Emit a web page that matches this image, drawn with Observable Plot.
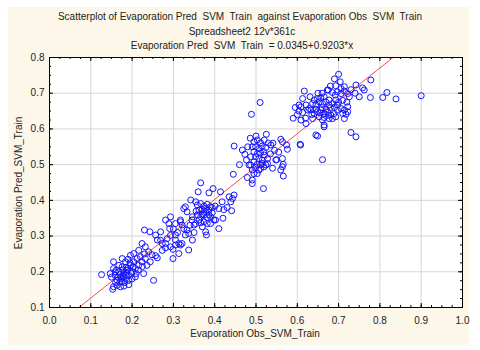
<!DOCTYPE html>
<html><head><meta charset="utf-8">
<script src="https://cdn.jsdelivr.net/npm/d3@7"></script>
<script src="https://cdn.jsdelivr.net/npm/@observablehq/plot@0.6"></script>
<style>
body{margin:0;background:#fff;}
#wrap{position:relative;width:480px;height:350px;overflow:hidden;font-family:"Liberation Sans",Arial,sans-serif;}
#panel{position:absolute;left:8px;top:7px;width:461px;height:338px;background:#fdf7ea;}
#chart{position:absolute;left:0;top:0;}
.t{position:absolute;left:0;width:480px;text-align:center;font-size:10px;color:#222;white-space:pre;line-height:12px;}
#ylab{position:absolute;left:-81px;top:177px;width:200px;height:12px;text-align:center;font-size:10px;line-height:12px;color:#222;transform:rotate(-90deg);white-space:pre;}
</style></head><body>
<div id="wrap">
<div id="panel"></div>
<div id="chart"></div>
<div class="t" id="t1" style="top:11px"></div>
<div class="t" id="t2" style="top:25.5px;left:2px"></div>
<div class="t" id="t3" style="top:40px;left:2px"></div>
<div class="t" id="xlab" style="top:327.5px;left:15px"></div>
<div id="ylab"></div>
</div>
<script>
const title1 = "Scatterplot of Evaporation Pred  SVM  Train  against Evaporation Obs  SVM  Train";
const title2 = "Spreadsheet2 12v*361c";
const title3 = "Evaporation Pred  SVM  Train  = 0.0345+0.9203*x";
const xLabel = "Evaporation Obs_SVM_Train";
const yLabel = "Evaporation Pred_SVM_Train";
const intercept = 0.0345, slope = 0.9203;
const xDomain = [0, 1];
const yDomain = [0.1, 0.8];
const xTicks = [0.0,0.1,0.2,0.3,0.4,0.5,0.6,0.7,0.8,0.9,1.0];
const yTicks = [0.1,0.2,0.3,0.4,0.5,0.6,0.7,0.8];

// [obs, pred] pairs
const lowCluster = [
[0.126,0.192],[0.230,0.317],[0.243,0.312],[0.252,0.176],[0.291,0.321],[0.269,0.288],[0.281,0.267],[0.299,0.263],
[0.257,0.245],[0.261,0.239],[0.299,0.237],[0.224,0.279],[0.232,0.270],[0.176,0.237],[0.196,0.246],[0.204,0.251],
[0.216,0.260],[0.240,0.256],[0.248,0.248],[0.228,0.195],[0.192,0.164],[0.155,0.158],[0.153,0.151],
[0.147,0.195],[0.155,0.209],[0.159,0.190],[0.164,0.176],[0.168,0.200],[0.172,0.186],[0.176,0.214],[0.176,0.172],
[0.180,0.195],[0.184,0.181],[0.188,0.204],[0.192,0.190],[0.196,0.218],[0.200,0.200],[0.204,0.228],[0.208,0.209],
[0.212,0.237],[0.216,0.218],[0.220,0.242],[0.224,0.228],[0.184,0.228],[0.168,0.218],[0.164,0.162],[0.172,0.158],
[0.159,0.200],[0.192,0.176],[0.208,0.186],[0.232,0.237],[0.236,0.218],[0.244,0.228],[0.273,0.260],[0.281,0.279],
[0.293,0.302],[0.285,0.293],[0.155,0.228],[0.313,0.251],[0.305,0.289],[0.313,0.279],[0.321,0.279],[0.337,0.261],
[0.170,0.192],[0.178,0.205],[0.186,0.190],[0.182,0.170],[0.166,0.185],[0.174,0.180],[0.190,0.210],[0.198,0.195],
[0.202,0.214],[0.186,0.198],[0.162,0.205],[0.150,0.185],[0.178,0.188],[0.195,0.225],[0.215,0.205],[0.225,0.215],
[0.230,0.250],[0.190,0.235],[0.170,0.170],[0.160,0.170],[0.200,0.180],[0.210,0.195],[0.180,0.160],[0.185,0.212]
];
const midCluster = [
[0.281,0.345],[0.289,0.335],[0.293,0.354],[0.257,0.303],[0.269,0.312],[0.305,0.335],[0.317,0.345],[0.325,0.321],
[0.333,0.317],[0.329,0.303],[0.346,0.289],[0.378,0.312],[0.380,0.303],[0.410,0.321],[0.261,0.289],[0.273,0.279],
[0.293,0.270],[0.305,0.275],[0.317,0.275],
[0.366,0.449],[0.360,0.424],[0.386,0.421],[0.396,0.433],[0.414,0.424],[0.435,0.410],[0.447,0.415],[0.418,0.396],
[0.342,0.401],[0.354,0.396],[0.325,0.377],[0.333,0.368],[0.410,0.377],[0.422,0.374],[0.441,0.371],[0.402,0.345],
[0.337,0.307],[0.317,0.340],[0.321,0.331],[0.305,0.303],[0.390,0.335],[0.370,0.326],[0.366,0.337],
[0.358,0.387],[0.366,0.391],[0.374,0.384],[0.382,0.389],[0.390,0.382],[0.362,0.373],[0.370,0.374],[0.378,0.368],
[0.386,0.373],[0.394,0.365],[0.358,0.359],[0.366,0.354],[0.374,0.359],[0.382,0.352],[0.390,0.354],[0.362,0.345],
[0.374,0.340],[0.382,0.335],[0.354,0.335],[0.398,0.345],[0.401,0.384],
[0.329,0.382],[0.346,0.354],[0.350,0.331],[0.439,0.396],[0.443,0.405],
[0.370,0.362],[0.378,0.378],[0.386,0.360],[0.394,0.380],[0.355,0.370],[0.345,0.345],[0.300,0.320],[0.310,0.310],
[0.340,0.330],[0.350,0.310],[0.420,0.350],[0.430,0.380]
];
const upperCluster = [
[0.510,0.674],[0.489,0.641],[0.486,0.574],[0.447,0.552],[0.467,0.541],[0.473,0.529],[0.477,0.513],[0.560,0.571],
[0.564,0.564],[0.574,0.555],[0.576,0.543],[0.608,0.555],[0.649,0.580],[0.661,0.514],[0.550,0.514],[0.564,0.517],
[0.566,0.501],[0.560,0.485],[0.566,0.468],[0.445,0.473],[0.479,0.464],[0.491,0.447],[0.518,0.433],
[0.495,0.564],[0.503,0.569],[0.511,0.561],[0.520,0.569],[0.499,0.550],[0.507,0.545],[0.515,0.552],[0.524,0.548],
[0.495,0.536],[0.503,0.531],[0.511,0.533],[0.520,0.527],[0.499,0.522],[0.507,0.517],[0.515,0.513],[0.495,0.508],
[0.503,0.501],[0.511,0.499],[0.499,0.492],[0.491,0.485],[0.507,0.485],[0.528,0.517],[0.524,0.499],[0.487,0.522],
[0.483,0.499],[0.536,0.555],[0.541,0.560],[0.548,0.513],[0.564,0.494],[0.487,0.499],[0.491,0.457],
[0.491,0.550],[0.519,0.494],[0.503,0.475],[0.495,0.475],[0.515,0.503],[0.528,0.503],[0.511,0.489],[0.519,0.536],
[0.535,0.530],[0.530,0.560],[0.545,0.540],[0.500,0.580],[0.525,0.585],[0.480,0.550],[0.460,0.500],[0.540,0.490],
[0.555,0.535]
];
const topCluster = [
[0.700,0.753],[0.704,0.732],[0.693,0.721],[0.706,0.713],[0.714,0.718],[0.742,0.723],[0.778,0.737],[0.617,0.706],
[0.673,0.709],[0.685,0.702],[0.692,0.695],[0.697,0.704],[0.714,0.706],[0.722,0.699],[0.726,0.690],[0.758,0.715],
[0.762,0.709],[0.750,0.690],[0.777,0.688],[0.807,0.688],[0.817,0.702],[0.839,0.684],[0.900,0.693],[0.613,0.685],
[0.631,0.690],[0.641,0.681],[0.649,0.685],[0.657,0.687],[0.665,0.690],[0.677,0.681],[0.604,0.667],[0.609,0.662],
[0.621,0.667],[0.629,0.657],[0.637,0.671],[0.645,0.667],[0.653,0.676],[0.661,0.671],[0.669,0.676],[0.677,0.667],
[0.685,0.671],[0.693,0.681],[0.697,0.667],[0.706,0.657],[0.714,0.653],[0.722,0.648],[0.722,0.662],[0.604,0.650],
[0.613,0.646],[0.625,0.653],[0.633,0.653],[0.641,0.643],[0.649,0.648],[0.657,0.653],[0.665,0.643],[0.673,0.648],
[0.681,0.639],[0.689,0.643],[0.697,0.653],[0.609,0.625],[0.621,0.615],[0.637,0.629],[0.653,0.634],[0.661,0.625],
[0.665,0.611],[0.677,0.629],[0.685,0.629],[0.693,0.634],[0.714,0.629],[0.718,0.641],[0.645,0.583],[0.730,0.590],
[0.742,0.578],[0.607,0.557],[0.675,0.709],[0.706,0.699],[0.710,0.643],[0.665,0.606],
[0.660,0.660],[0.670,0.655],[0.680,0.660],[0.690,0.660],[0.655,0.645],[0.675,0.638],[0.665,0.632],[0.645,0.655],
[0.635,0.640],[0.620,0.630],[0.700,0.675],[0.710,0.680],[0.720,0.675],[0.600,0.640],[0.595,0.660],[0.590,0.630],
[0.680,0.720],[0.660,0.700],[0.650,0.700],[0.690,0.740],[0.730,0.710],[0.740,0.700]
];

document.getElementById("t1").textContent = title1;
document.getElementById("t2").textContent = title2;
document.getElementById("t3").textContent = title3;
document.getElementById("xlab").textContent = xLabel;
document.getElementById("ylab").textContent = yLabel;

const W = 480, H = 350, mL = 49, mR = 18, mT = 57, mB = 43;
const fw = W - mL - mR, fh = H - mT - mB;
const points = [...lowCluster, ...midCluster, ...upperCluster, ...topCluster].map(([x, y]) => ({x, y}));
const fit = xDomain.map(x => ({x, y: intercept + slope * x}));
const xMinor = d3.range(xDomain[0], xDomain[1] + 1e-9, 0.025);
const yMinor = d3.range(yDomain[0], yDomain[1] + 1e-9, 0.025);

const chart = Plot.plot({
  width: W, height: H,
  marginLeft: mL, marginRight: mR, marginTop: mT, marginBottom: mB,
  style: {background: "transparent", fontFamily: "'Liberation Sans', Arial, sans-serif", fontSize: "10px", color: "#222"},
  x: {domain: xDomain},
  y: {domain: yDomain},
  marks: [
    Plot.frame({fill: "white", stroke: null}),
    Plot.gridX(xTicks.slice(1, -1), {stroke: "#d6d6d6", strokeOpacity: 1}),
    Plot.gridY(yTicks.slice(1, -1), {stroke: "#d6d6d6", strokeOpacity: 1}),
    Plot.line(fit, {x: "x", y: "y", stroke: "#ff4848", strokeWidth: 1, clip: true}),
    Plot.dot(points, {x: "x", y: "y", r: 3, stroke: "#1414ff", fill: "none", strokeWidth: 1}),
    Plot.ruleX(xMinor, {insetTop: fh - 2, stroke: "#000"}),
    Plot.ruleX(xMinor, {insetBottom: fh - 2, stroke: "#000"}),
    Plot.ruleX(xTicks, {insetTop: fh - 4, stroke: "#000"}),
    Plot.ruleX(xTicks, {insetBottom: fh - 4, stroke: "#000"}),
    Plot.ruleY(yMinor, {insetRight: fw - 2, stroke: "#000"}),
    Plot.ruleY(yMinor, {insetLeft: fw - 2, stroke: "#000"}),
    Plot.ruleY(yTicks, {insetRight: fw - 4, stroke: "#000"}),
    Plot.ruleY(yTicks, {insetLeft: fw - 4, stroke: "#000"}),
    Plot.axisX(xTicks, {tickSize: 0, tickPadding: 9, tickFormat: d3.format(".1f"), label: null, fill: "#222"}),
    Plot.axisY(yTicks, {tickSize: 0, tickPadding: 5, tickFormat: d3.format(".1f"), label: null, fill: "#222"}),
    Plot.frame({stroke: "#000", strokeWidth: 1})
  ]
});
document.getElementById("chart").appendChild(chart);
</script>
</body></html>
